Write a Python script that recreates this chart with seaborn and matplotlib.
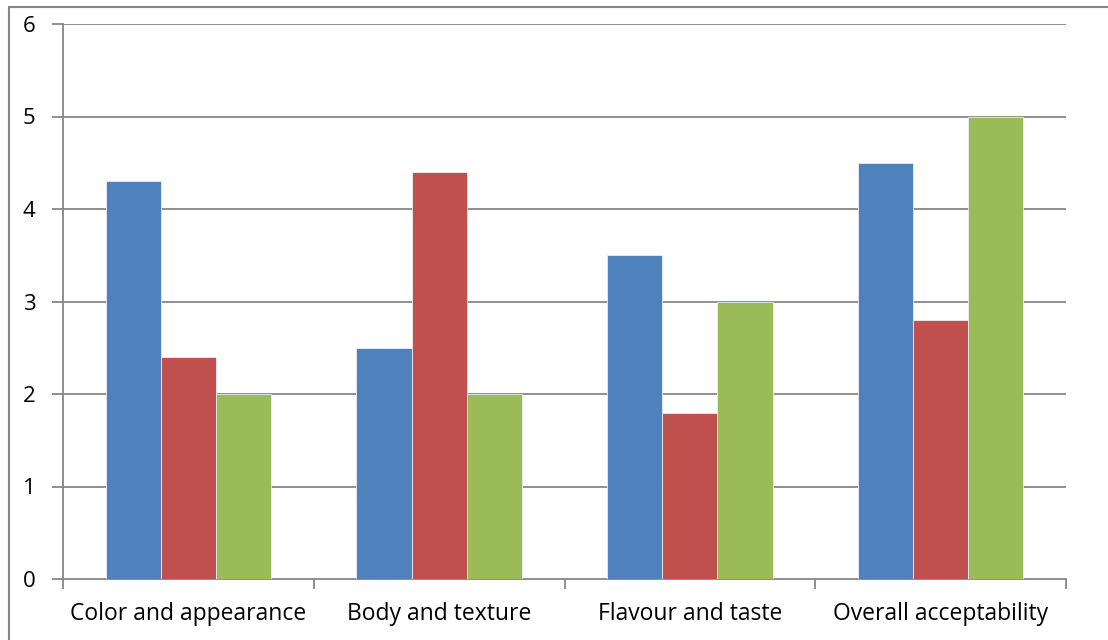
import numpy as np
import pandas as pd
import seaborn as sns
from matplotlib import pyplot as plt
from matplotlib.patches import Rectangle

categories = ['Color and appearance', 'Body and texture', 'Flavour and taste', 'Overall acceptability']
series_names = ['S1', 'S2', 'S3']
s1 = [4.3, 2.5, 3.5, 4.5]
s2 = [2.4, 4.4, 1.8, 2.8]
s3 = [2.0, 2.0, 3.0, 5.0]
colors = ['#4F81BD', '#C0504D', '#9BBB59']

df = pd.DataFrame({'category': categories * 3,
                   'series': [n for n in series_names for _ in categories],
                   'value': s1 + s2 + s3})

sns.set_style('white')
plt.rcParams['font.family'] = ['Open Sans', 'DejaVu Sans']

fig = plt.figure(figsize=(11.08, 6.4), dpi=100)
ax = fig.add_axes([63/1108, 1 - 579/640, (1066-63)/1108, (579-24)/640])

sns.barplot(data=df, x='category', y='value', hue='series', palette=colors,
            width=0.66, gap=0, ax=ax, legend=False, zorder=3, saturation=1,
            edgecolor='#e8eef6', linewidth=0.6)

grid_c = '#868686'
ax.set_ylim(0, 6)
ax.set_xlim(-0.5, 3.5)
ax.set_yticks(range(0, 7))
for y in range(1, 7):
    ax.axhline(y, color=grid_c, lw=1.3, zorder=1)
for s in ['top', 'right']:
    ax.spines[s].set_visible(False)
for s in ['left', 'bottom']:
    ax.spines[s].set_color(grid_c)
    ax.spines[s].set_linewidth(1.3)
ax.set_xticks([])
ax.set_xticks(np.arange(-0.5, 4, 1), minor=True)
ax.tick_params(axis='x', which='minor', length=7, color=grid_c, width=1.3, bottom=True)
ax.tick_params(axis='y', length=8, color=grid_c, width=1.3, left=True, labelsize=16,
               labelcolor='black', pad=12)
for i, c in enumerate(categories):
    ax.text(i, -0.25, c, ha='center', va='top', fontsize=16.5, color='black',
            transform=ax.transData)
ax.set_xlabel('')
ax.set_ylabel('')

fig.patches.append(Rectangle((9/1108, -0.1), 1.2, 1 - 7/640 + 0.1, transform=fig.transFigure,
                             fill=False, edgecolor=grid_c, lw=1.5))

fig.savefig('out.png', dpi=100)
